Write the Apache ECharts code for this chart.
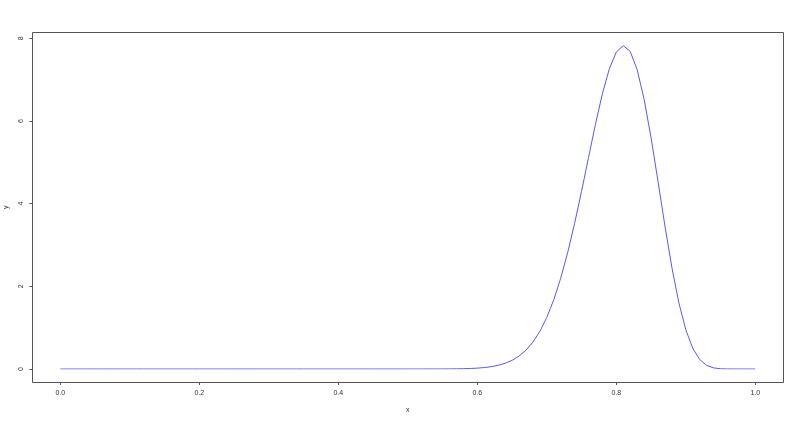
<!DOCTYPE html>
<html>
<head>
<meta charset="utf-8">
<script src="https://cdn.jsdelivr.net/npm/echarts@6/dist/echarts.min.js"></script>
<style>
html,body{margin:0;padding:0;background:#fff;}
#chart{width:800px;height:423px;}
</style>
</head>
<body>
<div id="chart"></div>
<script>
// x grid of the curve
var xValues = [
 0.00,0.01,0.02,0.03,0.04,0.05,0.06,0.07,0.08,0.09,
 0.10,0.11,0.12,0.13,0.14,0.15,0.16,0.17,0.18,0.19,
 0.20,0.21,0.22,0.23,0.24,0.25,0.26,0.27,0.28,0.29,
 0.30,0.31,0.32,0.33,0.34,0.35,0.36,0.37,0.38,0.39,
 0.40,0.41,0.42,0.43,0.44,0.45,0.46,0.47,0.48,0.49,
 0.50,0.51,0.52,0.53,0.54,0.55,0.56,0.57,0.58,0.59,
 0.60,0.61,0.62,0.63,0.64,0.65,0.66,0.67,0.68,0.69,
 0.70,0.71,0.72,0.73,0.74,0.75,0.76,0.77,0.78,0.79,
 0.80,0.81,0.82,0.83,0.84,0.85,0.86,0.87,0.88,0.89,
 0.90,0.91,0.92,0.93,0.94,0.95,0.96,0.97,0.98,0.99,
 1.00
];
// y values
var yValues = [
 0,0,0,0,0,0,0,0,0,0,
 0,0,0,0,0,0,0,0,0,0,
 0,0,0,0,0,0,0,0,0,0,
 0,0,0,0,0,0,0,0,0,0,
 0,0,0,0,0,0,0,0,0,0,
 0.0000,0.0001,0.0002,0.0004,0.0007,0.0013,0.0024,0.0042,0.0073,0.0126,
 0.0211,0.0347,0.0560,0.0886,0.1374,0.2089,0.3112,0.4543,0.6498,0.9101,
 1.2478,1.6740,2.1957,2.8143,3.5222,4.2996,5.1140,5.9196,6.6576,7.2633,
 7.6695,7.8220,7.6818,7.2415,6.5264,5.5966,4.5398,3.4594,2.4540,1.6027,
 0.9497,0.5010,0.2292,0.0877,0.0266,0.0059,0.0008,0.0001,0,0,
 0
];
var xTicks = [0, 0.2, 0.4, 0.6, 0.8, 1.0];
var yTicks = [0, 2, 4, 6, 8];

var pts = xValues.map(function (x, i) { return [x, yValues[i]]; });

var chart = echarts.init(document.getElementById('chart'), null, {renderer: 'canvas'});
var axisCol = '#555';
var textCol = '#333';
chart.setOption({
  animation: false,
  backgroundColor: '#ffffff',
  grid: {left: 60.3, right: 44.7, top: 38.3, bottom: 54, containLabel: false, outerBoundsMode: 'none'},
  xAxis: {
    type: 'value',
    min: xTicks[0], max: xTicks[xTicks.length - 1], interval: 0.2,
    offset: 13,
    name: 'x', nameLocation: 'middle', nameGap: 25,
    nameTextStyle: {color: textCol, fontSize: 7, fontFamily: 'Liberation Sans'},
    axisLine: {show: true, onZero: false, lineStyle: {color: axisCol, width: 1}},
    axisTick: {show: true, length: 3, lineStyle: {color: axisCol}},
    axisLabel: {color: textCol, fontSize: 7, fontFamily: 'Liberation Sans', margin: 8,
      formatter: function (v) { return v.toFixed(1); }},
    splitLine: {show: false}
  },
  yAxis: {
    type: 'value',
    min: yTicks[0], max: yTicks[yTicks.length - 1], interval: 2,
    offset: 28,
    name: 'y', nameLocation: 'middle', nameGap: 23,
    nameTextStyle: {color: textCol, fontSize: 7, fontFamily: 'Liberation Sans', padding: [0, 7, 0, 0]},
    axisLine: {show: true, onZero: false, lineStyle: {color: axisCol, width: 1}},
    axisTick: {show: true, length: 3, lineStyle: {color: axisCol}},
    axisLabel: {color: textCol, fontSize: 7, fontFamily: 'Liberation Sans', margin: 8, rotate: 90},
    splitLine: {show: false}
  },
  graphic: [{
    type: 'rect', z: 0,
    shape: {x: 32.5, y: 32.5, width: 751, height: 350},
    style: {fill: 'none', stroke: axisCol, lineWidth: 1}
  }],
  series: [{
    type: 'line',
    data: pts,
    showSymbol: false,
    smooth: false,
    lineStyle: {color: '#5a5af0', width: 1},
    itemStyle: {color: '#5a5af0'}
  }]
});
</script>
</body>
</html>
